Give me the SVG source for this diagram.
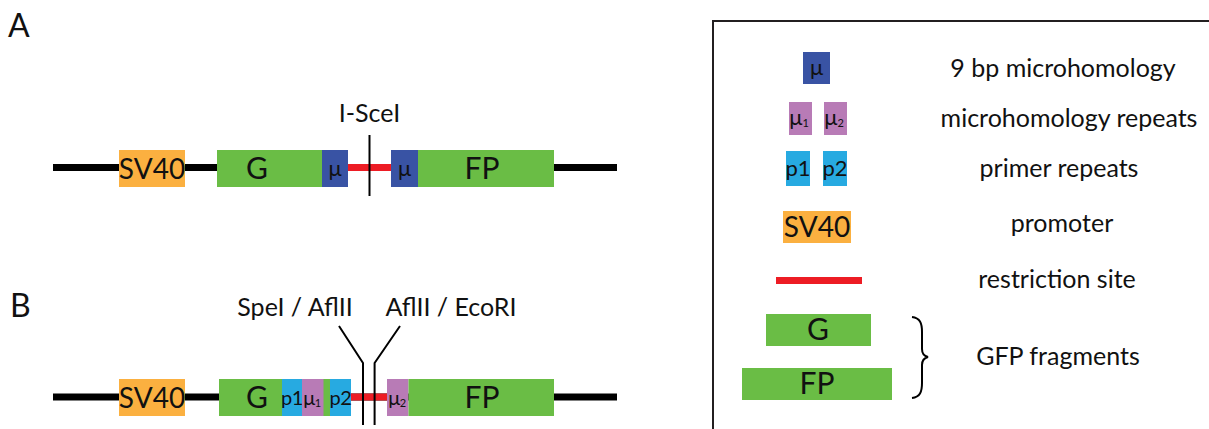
<svg xmlns="http://www.w3.org/2000/svg" width="1209" height="429" viewBox="0 0 1209 429">
<style>
text{font-family:Lato,"Open Sans","Liberation Sans",sans-serif;fill:#111}
.bb{font-size:30px;text-anchor:middle}
.svt{font-size:28px;text-anchor:middle}
.sm{font-size:22px;text-anchor:middle}
.ss{font-size:20px;text-anchor:middle;letter-spacing:-0.5px}
.lb{font-size:25px;text-anchor:middle}
.lg{font-size:25px;text-anchor:middle}
.pn{font-size:32px}
.sub{font-size:11px}
.dna{stroke:#000;stroke-width:7}
.rs{stroke:#ed1c24;stroke-width:7}
.cut{stroke:#000;stroke-width:2;fill:none}
.sv{fill:#fbb040}
.gr{fill:#6abd45}
.mu{fill:#3953a4}
.pu{fill:#b87bb6}
.pr{fill:#27aae1}
</style>
<rect width="1209" height="429" fill="#fff"/>
<text class="pn" x="8" y="37">A</text>
<text class="pn" x="10" y="317">B</text>

<g id="panelA">
  <line class="dna" x1="53" y1="167.5" x2="617" y2="167.5"/>
  <g id="A-sv40"><rect class="sv" x="119" y="150" width="66" height="37"/><text class="svt" x="152" y="179">SV40</text></g>
  <g id="A-G"><rect class="gr" x="217" y="150" width="105" height="37"/><text class="bb" x="257" y="179">G</text></g>
  <g id="A-mu1"><rect class="mu" x="322" y="150" width="26" height="37"/><text class="sm" x="335" y="176">μ</text></g>
  <line class="rs" x1="348" y1="167.5" x2="391" y2="167.5"/>
  <g id="A-mu2"><rect class="mu" x="391" y="150" width="27" height="37"/><text class="sm" x="404.5" y="176">μ</text></g>
  <g id="A-FP"><rect class="gr" x="418" y="150" width="136" height="37"/><text class="bb" x="482" y="179">FP</text></g>
  <g id="A-cut"><line class="cut" x1="369.5" y1="135" x2="369.5" y2="196"/><text class="lb" x="369.5" y="122">I-SceI</text></g>
</g>

<g id="panelB">
  <line class="dna" x1="53" y1="397" x2="617" y2="397"/>
  <g id="B-sv40"><rect class="sv" x="119" y="379" width="66" height="37"/><text class="svt" x="152" y="408">SV40</text></g>
  <g id="B-G"><rect class="gr" x="219" y="379" width="111" height="37"/><text class="bb" x="257" y="408">G</text></g>
  <g id="B-p1"><rect class="pr" x="282" y="379" width="20" height="37"/><text class="ss" x="292" y="405">p1</text></g>
  <g id="B-mu1"><rect class="pu" x="302" y="379" width="21.5" height="37"/><text class="ss" x="312" y="405">μ<tspan class="sub" dy="2">1</tspan></text></g>
  <g id="B-p2"><rect class="pr" x="330" y="379" width="21" height="37"/><text class="ss" x="340.5" y="405">p2</text></g>
  <line class="rs" x1="351" y1="397" x2="387" y2="397"/>
  <g id="B-mu2"><rect class="pu" x="387" y="379" width="21.5" height="37"/><text class="ss" x="397" y="405">μ<tspan class="sub" dy="2">2</tspan></text></g>
  <g id="B-FP"><rect class="gr" x="408.5" y="379" width="145.5" height="37"/><text class="bb" x="482" y="408">FP</text></g>
  <g id="B-cut1"><polyline class="cut" points="339,326 363,363 363,425"/><text class="lb" x="295" y="316">SpeI / AflII</text></g>
  <g id="B-cut2"><polyline class="cut" points="400,326 374.6,363 374.6,425"/><text class="lb" x="451" y="316">AflII / EcoRI</text></g>
</g>

<g id="legend">
  <rect x="713" y="21" width="520" height="430" fill="none" stroke="#231f20" stroke-width="2"/>
  <g id="L-mu"><rect class="mu" x="803" y="52" width="27" height="32"/><text class="sm" x="816.5" y="75">μ</text><text class="lg" x="1063" y="77">9 bp microhomology</text></g>
  <g id="L-murep"><rect class="pu" x="789" y="102" width="23" height="33"/><text class="sm" x="799" y="125">μ<tspan class="sub" dy="2">1</tspan></text><rect class="pu" x="824" y="102" width="23" height="33"/><text class="sm" x="834" y="125">μ<tspan class="sub" dy="2">2</tspan></text><text class="lg" x="1069" y="127">microhomology repeats</text></g>
  <g id="L-primer"><rect class="pr" x="786" y="151" width="24" height="35"/><text class="sm" x="798" y="176">p1</text><rect class="pr" x="823" y="151" width="24" height="35"/><text class="sm" x="835" y="176">p2</text><text class="lg" x="1059" y="177">primer repeats</text></g>
  <g id="L-sv40"><rect class="sv" x="783" y="211" width="68" height="32"/><text class="svt" x="817" y="237">SV40</text><text class="lg" x="1062" y="232">promoter</text></g>
  <g id="L-rs"><line class="rs" x1="776" y1="280.5" x2="862" y2="280.5"/><text class="lg" x="1057" y="288">restriction site</text></g>
  <g id="L-gfp"><rect class="gr" x="766" y="314" width="105" height="32"/><text class="bb" x="818" y="340">G</text><rect class="gr" x="742" y="368" width="150" height="32"/><text class="bb" x="817" y="394">FP</text>
    <path class="cut" stroke-width="1.5" d="M912,317 C920,318 922,323 922,332 L922,349 C922,354 924,356 928,357 C924,358 922,360 922,365 L922,383 C922,392 920,397 912,398"/>
    <text class="lg" x="1058" y="365">GFP fragments</text></g>
</g>
</svg>
